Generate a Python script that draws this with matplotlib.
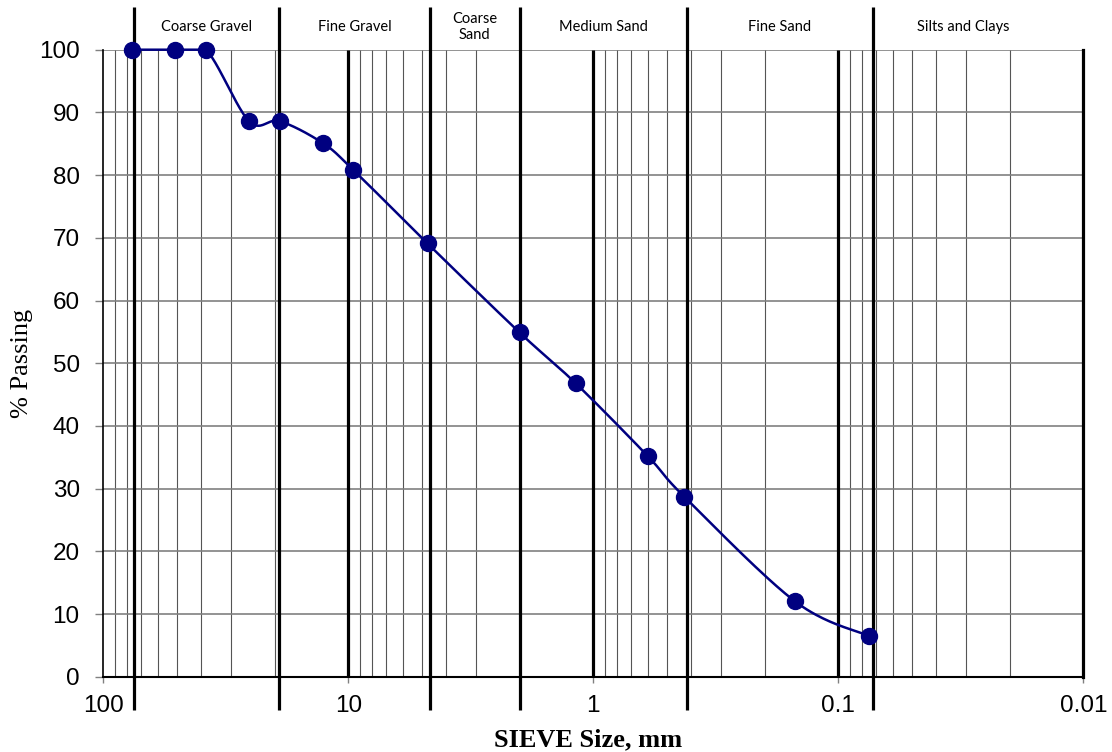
import numpy as np
import matplotlib.pyplot as plt
from matplotlib.ticker import LogLocator, NullFormatter

plt.rcParams['font.family'] = ['Liberation Sans', 'DejaVu Sans']

# Sieve analysis data
sieve_mm = [76.2, 50.8, 38.1, 25.4, 19.05, 12.7, 9.525, 4.75, 2.0, 1.18, 0.6, 0.425, 0.15, 0.075]
passing = [100, 100, 100, 88.6, 88.6, 85.1, 80.8, 69.1, 54.9, 46.8, 35.2, 28.7, 12.0, 6.5]

# soil class boundaries (mm) and the zone names between them
boundaries = [75, 19.2, 4.65, 2.0, 0.415, 0.0725]
zone_names = ['Coarse Gravel', 'Fine Gravel', 'Coarse\nSand', 'Medium Sand', 'Fine Sand', 'Silts and Clays']
zone_label_x = [37.8, 9.4, 3.05, 0.91, 0.173, 0.031]

x_ticks = [100, 10, 1, 0.1, 0.01]
x_tick_labels = ['100', '10', '1', '0.1', '0.01']


def smooth(xs, ys, n=40):
    # smoothed line like a spreadsheet chart (Bezier through the points)
    p = np.column_stack([np.log10(xs), ys])
    out = []
    for i in range(len(p) - 1):
        p0 = p[i - 1] if i > 0 else p[i]
        p3 = p[i + 2] if i + 2 < len(p) else p[i + 1]
        c1 = p[i] + (p[i + 1] - p0) / 6
        c2 = p[i + 1] - (p3 - p[i]) / 6
        t = np.linspace(0, 1, n)[:, None]
        seg = (1 - t)**3 * p[i] + 3 * (1 - t)**2 * t * c1 + 3 * (1 - t) * t**2 * c2 + t**3 * p[i + 1]
        out.append(seg)
    out = np.vstack(out)
    return 10**out[:, 0], np.minimum(out[:, 1], 100)


fig = plt.figure(figsize=(11.12, 7.52), dpi=100)
ax = fig.add_axes([0.0929, 0.1001, 0.8813, 0.8338])

ax.set_xscale('log')
ax.set_xlim(100, 0.01)
ax.set_ylim(0, 100)

# grid
ax.set_yticks(range(0, 101, 10))
ax.yaxis.grid(True, color='#808080', lw=1.2)
ax.xaxis.set_minor_locator(LogLocator(base=10, subs=np.arange(2, 10)))
ax.xaxis.set_minor_formatter(NullFormatter())
ax.xaxis.grid(True, which='minor', color='#555555', lw=0.8)
ax.set_xticks(x_ticks, labels=x_tick_labels)
ax.set_axisbelow(True)
# heavy decade lines inside the plot
ax.vlines([10, 1, 0.1], 0, 100, colors='black', lw=2.3, zorder=1)

ax.tick_params(axis='y', labelsize=17.5, length=6, width=1, color='#808080', pad=11)
ax.tick_params(axis='x', which='major', labelsize=17.5, length=4, width=1, color='#808080', pad=9)
ax.tick_params(axis='x', which='minor', length=0)

ax.spines['top'].set_visible(False)
ax.spines['left'].set_linewidth(1.2)
ax.spines['right'].set_linewidth(2.3)
ax.spines['bottom'].set_linewidth(1.5)

# class boundaries running above and below the plot
ax.vlines(boundaries, -5.3, 106.8, colors='black', lw=2.3, clip_on=False, zorder=3)
for name, xl in zip(zone_names, zone_label_x):
    ax.text(xl, 103.6, name, ha='center', va='center', fontsize=10.5,
            family=['Lato', 'DejaVu Sans'], linespacing=1.2, clip_on=False)

# grading curve
sx, sy = smooth(sieve_mm, passing)
ax.plot(sx, sy, color='#000080', lw=1.8, clip_on=False, zorder=4)
ax.plot(sieve_mm, passing, 'o', color='#000080', ms=11.5, clip_on=False, zorder=5)

ax.set_ylabel('% Passing', family=['Liberation Serif'], fontsize=19)
ax.yaxis.set_label_coords(-0.0717, 0.5)
ax.set_xlabel('SIEVE Size, mm', family=['Liberation Serif'], fontsize=19, fontweight='bold', va='top')
ax.xaxis.set_label_coords(0.4946, -0.083)

plt.savefig('out.png', dpi=100)
